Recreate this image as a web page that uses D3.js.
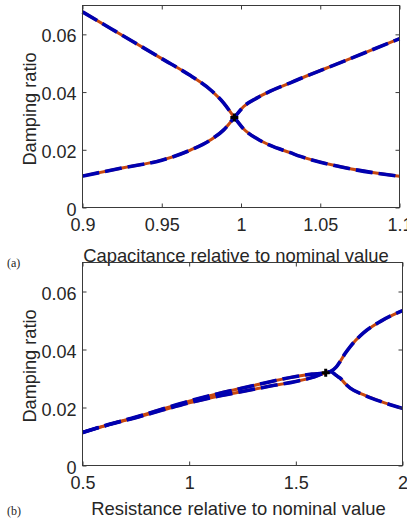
<!DOCTYPE html>
<html><head><meta charset="utf-8">
<script src="https://cdn.jsdelivr.net/npm/d3@7"></script>
<style>
html,body{margin:0;padding:0;background:#fff;}
svg{display:block;}
text{font-family:"Liberation Sans",Arial,Helvetica,sans-serif;fill:#262626;}
</style></head>
<body>
<svg id="chart" width="407" height="519"></svg>
<script>
// ---------- Data (a): capacitance sweep ----------
const capX1 = [0.9, 0.925, 0.95, 0.9681, 0.9807, 0.9891, 0.9958, 1.0017, 1.0102, 1.0185, 1.0311, 1.0375, 1.0627, 1.1];
const capY1 = [0.0678, 0.0597, 0.0516, 0.0457, 0.0408, 0.0362, 0.0312, 0.0272, 0.0238, 0.0215, 0.0190, 0.0177, 0.0141, 0.0108];
const capX2 = [0.9, 0.925, 0.95, 0.9681, 0.9807, 0.9891, 0.9958, 1.0017, 1.0102, 1.0185, 1.0311, 1.0375, 1.0627, 1.1];
const capY2 = [0.0109, 0.0137, 0.0164, 0.0199, 0.0234, 0.0269, 0.0312, 0.0350, 0.0380, 0.0403, 0.0432, 0.0447, 0.0502, 0.0585];
const capEP = [0.9958, 0.0312];
const capXTicks = [0.9, 0.95, 1, 1.05, 1.1];
const capXTickLabels = ["0.9", "0.95", "1", "1.05", "1.1"];

// ---------- Data (b): resistance sweep ----------
const resX1 = [0.5, 0.625, 0.75, 0.875, 1.0, 1.125, 1.25, 1.375, 1.5, 1.575, 1.64, 1.662, 1.69, 1.708, 1.73, 1.755, 1.817, 1.897, 2.0];
const resY1 = [0.0114, 0.0142, 0.0167, 0.0195, 0.0222, 0.0246, 0.0267, 0.0288, 0.0307, 0.0315, 0.0320, 0.0324, 0.0340, 0.0359, 0.0385, 0.0410, 0.0457, 0.0497, 0.0534];
const resX2 = [0.5, 0.625, 0.75, 0.875, 1.0, 1.125, 1.25, 1.375, 1.5, 1.575, 1.64, 1.662, 1.69, 1.708, 1.73, 1.755, 1.817, 1.897, 2.0];
const resY2 = [0.0114, 0.0141, 0.0165, 0.0191, 0.0216, 0.0237, 0.0255, 0.0273, 0.0290, 0.0303, 0.0320, 0.0324, 0.0310, 0.0301, 0.0283, 0.0267, 0.0244, 0.0221, 0.0197];
const resEP = [1.64, 0.0320];
const resXTicks = [0.5, 1, 1.5, 2];
const resXTickLabels = ["0.5", "1", "1.5", "2"];

// ---------- Shared ----------
const yTicks = [0, 0.02, 0.04, 0.06];
const yTickLabels = ["0", "0.02", "0.04", "0.06"];
const yLabel = "Damping ratio";

const svg = d3.select("#chart");

function panel(cfg) {
  const g = svg.append("g");
  const x = d3.scaleLinear().domain(cfg.xDomain).range([cfg.left, cfg.right]);
  const y = d3.scaleLinear().domain([0, 0.07]).range([cfg.bottom, cfg.top]);
  const axisColor = "#3a3a3a";
  const tl = 4;

  const line = d3.line().x(d => x(d[0])).y(d => y(d[1])).curve(d3.curveMonotoneX);
  cfg.series.forEach(s => {
    const pts = s.x.map((v, i) => [v, s.y[i]]);
    g.append("path").attr("d", line(pts)).attr("fill", "none")
      .attr("stroke", "#c8480f").attr("stroke-width", 3).attr("stroke-linecap", "butt");
  });
  cfg.series.forEach(s => {
    const pts = s.x.map((v, i) => [v, s.y[i]]);
    g.append("path").attr("d", line(pts)).attr("fill", "none")
      .attr("stroke", "#0000b0").attr("stroke-width", 3.6)
      .attr("stroke-dasharray", "17,6").attr("stroke-linecap", "butt");
  });

  const ex = x(cfg.ep[0]), ey = y(cfg.ep[1]);
  g.append("path").attr("d", `M${ex-4},${ey}H${ex+4}M${ex},${ey-4}V${ey+4}`)
    .attr("stroke", "#000").attr("stroke-width", 3);

  g.append("rect").attr("x", cfg.left).attr("y", cfg.top)
    .attr("width", cfg.right - cfg.left).attr("height", cfg.bottom - cfg.top)
    .attr("fill", "none").attr("stroke", axisColor).attr("stroke-width", 1);

  const xb = g.append("g").attr("transform", `translate(0,${cfg.bottom})`)
    .call(d3.axisBottom(x).tickValues(cfg.xTicks).tickSize(-tl).tickSizeOuter(0)
      .tickFormat((d, i) => cfg.xTickLabels[i]));
  const xt = g.append("g").attr("transform", `translate(0,${cfg.top})`)
    .call(d3.axisTop(x).tickValues(cfg.xTicks).tickSize(-tl).tickSizeOuter(0).tickFormat(""));
  const yl = g.append("g").attr("transform", `translate(${cfg.left},0)`)
    .call(d3.axisLeft(y).tickValues(yTicks).tickSize(-tl).tickSizeOuter(0)
      .tickFormat((d, i) => yTickLabels[i]));
  const yr = g.append("g").attr("transform", `translate(${cfg.right},0)`)
    .call(d3.axisRight(y).tickValues(yTicks).tickSize(-tl).tickSizeOuter(0).tickFormat(""));
  [xb, xt, yl, yr].forEach(a => {
    a.select(".domain").remove();
    a.selectAll(".tick line").attr("stroke", axisColor);
  });
  xb.selectAll(".tick text").attr("y", 0).attr("dy", 23).attr("font-size", 18)
    .attr("fill", "#262626").style("font-family", '"Liberation Sans",Arial,sans-serif');
  yl.selectAll(".tick text").attr("x", -6).attr("dy", 7.5).attr("font-size", 18)
    .attr("fill", "#262626").style("font-family", '"Liberation Sans",Arial,sans-serif');

  g.append("text").attr("x", cfg.xLabelX).attr("y", cfg.xLabelY)
    .attr("text-anchor", "middle").attr("font-size", 18.4).text(cfg.xLabel);
  g.append("text").attr("transform", `translate(35.5,${cfg.yLabelY}) rotate(-90)`)
    .attr("text-anchor", "middle").attr("font-size", 18.2).text(yLabel);
  g.append("text").attr("x", 7).attr("y", cfg.tagY)
    .attr("font-size", 12).style("font-family", '"Liberation Serif","Times New Roman",serif')
    .attr("fill", "#000").text(cfg.tag);
}

panel({
  left: 82.5, right: 399.5, top: 5.5, bottom: 207.5,
  xDomain: [0.9, 1.1], xTicks: capXTicks, xTickLabels: capXTickLabels,
  series: [{x: capX1, y: capY1}, {x: capX2, y: capY2}], ep: capEP,
  xLabel: "Capacitance relative to nominal value", xLabelX: 236, xLabelY: 262,
  yLabelY: 109, tag: "(a)", tagY: 267
});
panel({
  left: 82.5, right: 402.5, top: 262.5, bottom: 465.5,
  xDomain: [0.5, 2], xTicks: resXTicks, xTickLabels: resXTickLabels,
  series: [{x: resX1, y: resY1}, {x: resX2, y: resY2}], ep: resEP,
  xLabel: "Resistance relative to nominal value", xLabelX: 238.5, xLabelY: 514.5,
  yLabelY: 366, tag: "(b)", tagY: 515
});
</script>
</body></html>
